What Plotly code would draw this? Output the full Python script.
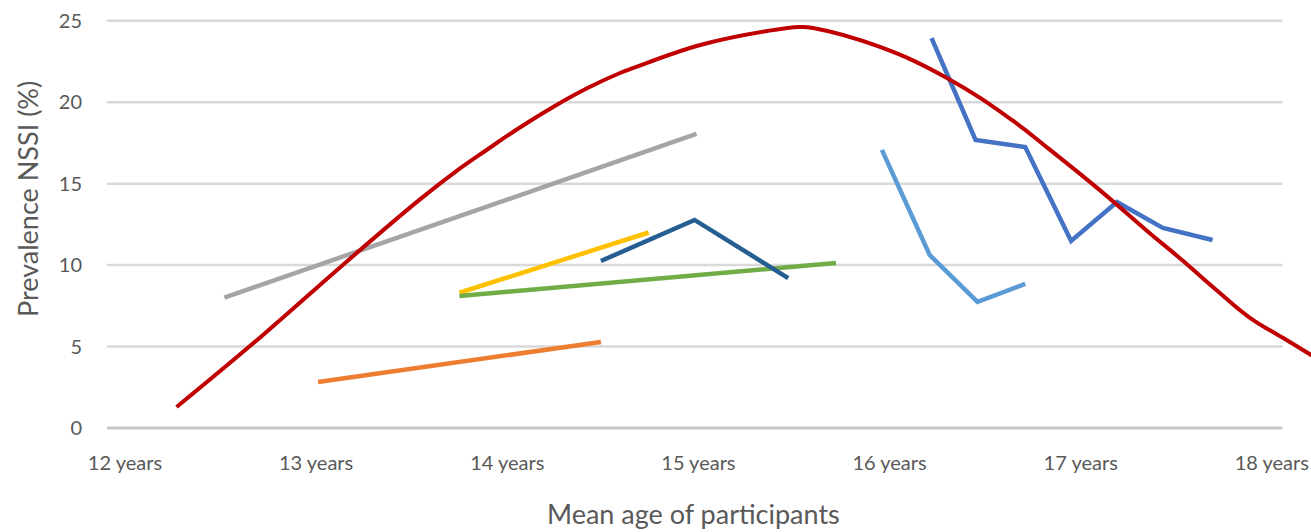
import plotly.graph_objects as go

# ---- data ----
gray_x = [12.52, 14.99]
gray_y = [8.0, 18.05]

orange_x = [13.01, 14.49]
orange_y = [2.82, 5.28]

yellow_x = [13.75, 14.74]
yellow_y = [8.3, 12.0]

green_x = [13.75, 15.72]
green_y = [8.1, 10.13]

navy_x = [14.49, 14.98, 15.47]
navy_y = [10.25, 12.77, 9.2]

lightblue_x = [15.96, 16.21, 16.46, 16.71]
lightblue_y = [17.07, 10.62, 7.74, 8.84]

blue_x = [16.22, 16.45, 16.71, 16.95, 17.19, 17.43, 17.69]
blue_y = [23.94, 17.68, 17.25, 11.48, 13.87, 12.28, 11.54]

red_x = [12.27, 12.71, 13.14, 13.54, 13.72, 13.89, 14.07, 14.24, 14.42, 14.59, 14.66,
         15.01, 15.36, 15.53, 15.60, 15.95, 16.30, 16.64, 16.84, 17.10, 17.36, 17.53,
         17.71, 17.88, 18.06, 18.21]
red_y = [1.29, 5.59, 10.01, 14.0, 15.65, 17.05, 18.48, 19.71, 20.87, 21.79, 22.10,
         23.51, 24.37, 24.62, 24.56, 23.39, 21.49, 18.91, 17.07, 14.6, 11.97, 10.31,
         8.47, 6.81, 5.52, 4.45]

x_tickvals = [12, 13, 14, 15, 16, 17, 18]
x_ticktext = ["12 years", "13 years", "14 years", "15 years", "16 years", "17 years", "18 years"]
y_tickvals = [0, 5, 10, 15, 20, 25]
grid_vals = [5, 10, 15, 20, 25]
grid_x_start = 11.906
grid_x_end = 18.056

x_title = "Mean age of participants"
y_title = "Prevalence NSSI (%)"

FONT = "Lato, Open Sans, sans-serif"
TXT = "#595959"

fig = go.Figure()

series = [
    (gray_x, gray_y, "#A5A5A5"),
    (orange_x, orange_y, "#ED7D31"),
    (yellow_x, yellow_y, "#FFC000"),
    (green_x, green_y, "#70AD47"),
    (navy_x, navy_y, "#255E91"),
    (lightblue_x, lightblue_y, "#5B9BD5"),
    (blue_x, blue_y, "#4472C4"),
]
for xs, ys, c in series:
    fig.add_trace(go.Scatter(x=xs, y=ys, mode="lines",
                             line=dict(color=c, width=4.5), showlegend=False))

fig.add_trace(go.Scatter(x=red_x, y=red_y, mode="lines",
                         line=dict(color="#C00000", width=4, shape="spline", smoothing=1.2),
                         showlegend=False))

shapes = []
for g in grid_vals:
    shapes.append(dict(type="line", xref="x", yref="y", x0=grid_x_start, x1=grid_x_end,
                       y0=g, y1=g, line=dict(color="#D9D9D9", width=2.5), layer="below"))
shapes.append(dict(type="line", xref="x", yref="y", x0=grid_x_start, x1=grid_x_end,
                   y0=0, y1=0, line=dict(color="#C8C8C8", width=3), layer="below"))

# plot area: 1204 x 430 px at (107, 10)
annotations = [
    dict(text=x_title, xref="paper", yref="paper", x=0.4875, y=-0.172,
         xanchor="center", yanchor="middle", showarrow=False,
         font=dict(size=27, color=TXT, family=FONT)),
    dict(text=y_title, xref="paper", yref="paper", x=-0.0656, y=0.5605,
         xanchor="center", yanchor="middle", showarrow=False, textangle=-90,
         font=dict(size=27, color=TXT, family=FONT)),
]

fig.update_layout(
    width=1311, height=532,
    margin=dict(l=107, r=0, t=10, b=92),
    paper_bgcolor="white", plot_bgcolor="white",
    shapes=shapes,
    annotations=annotations,
    font=dict(family=FONT, color=TXT, size=20),
    xaxis=dict(range=[11.906, 18.205], tickvals=x_tickvals, ticktext=x_ticktext,
               automargin=False, ticklabeloverflow="allow",
               showgrid=False, zeroline=False, showline=False, ticks="",
               ticklabelstandoff=9,
               tickfont=dict(size=20, color=TXT, family=FONT)),
    yaxis=dict(range=[-0.74, 25.66], tickvals=y_tickvals,
               automargin=False, ticklabeloverflow="allow",
               showgrid=False, zeroline=False, showline=False, ticks="",
               ticklabelstandoff=24,
               tickfont=dict(size=20, color=TXT, family=FONT)),
)

fig.write_html("out.html", config={"displayModeBar": False},
               post_script="document.body.style.margin='0';")
